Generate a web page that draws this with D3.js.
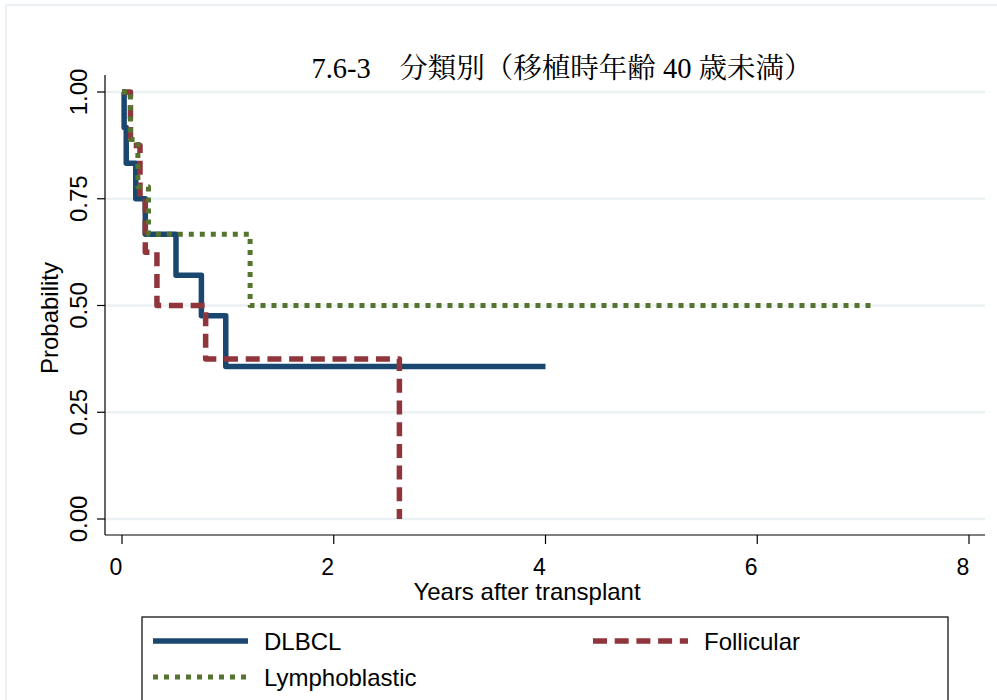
<!DOCTYPE html>
<html>
<head>
<meta charset="utf-8">
<script src="https://cdn.jsdelivr.net/npm/d3@7"></script>
<style>
  body { margin: 0; background: #fff; }
  text { font-family: "Liberation Sans", Arial, sans-serif; fill: #000; }
  .title { font-family: "Liberation Serif", "Noto Serif CJK JP", "Noto Sans CJK JP", serif; }
</style>
</head>
<body>
<script>
// Kaplan-Meier steps
var dlbclTime = [0, 0.02, 0.04, 0.13, 0.22, 0.51, 0.75, 0.98, 4.0];
var dlbclSurv = [1, 0.917, 0.833, 0.75, 0.667, 0.571, 0.476, 0.357, 0.357];

var follTime = [0, 0.08, 0.17, 0.22, 0.33, 0.79, 2.62];
var follSurv = [1, 0.875, 0.75, 0.625, 0.5, 0.375, 0];

var lymphTime = [0, 0.08, 0.15, 0.25, 1.21, 7.08];
var lymphSurv = [1, 0.889, 0.778, 0.667, 0.5, 0.5];

var xTicks = [0, 2, 4, 6, 8];
var yTicks = [0, 0.25, 0.5, 0.75, 1];
var titleText = "7.6-3\u3000分類別（移植時年齢 40 歳未満）";

var W = 997, H = 700;
var svg = d3.select("body").append("svg").attr("width", W).attr("height", H);

// outer faint frame
svg.append("rect")
  .attr("x", 6).attr("y", 5).attr("width", W + 20).attr("height", H + 20)
  .attr("fill", "none").attr("stroke", "#e6edf2").attr("stroke-width", 1.5);

var x = d3.scaleLinear().domain([0, 8]).range([122, 969]);
var y = d3.scaleLinear().domain([0, 1]).range([519, 92]);
var plotL = 105, plotR = 985, plotT = 75, plotB = 535;

// gridlines
svg.selectAll(".grid").data(yTicks).enter().append("line")
  .attr("x1", plotL).attr("x2", plotR)
  .attr("y1", function (d) { return y(d); })
  .attr("y2", function (d) { return y(d); })
  .attr("stroke", "#eaf2f3").attr("stroke-width", 2.5);

// axes lines
svg.append("line").attr("x1", plotL).attr("x2", plotL).attr("y1", plotT).attr("y2", plotB)
  .attr("stroke", "#000").attr("stroke-width", 1.2);
svg.append("line").attr("x1", plotL).attr("x2", plotR).attr("y1", plotB).attr("y2", plotB)
  .attr("stroke", "#000").attr("stroke-width", 1.2);

// y ticks + labels
svg.selectAll(".ytick").data(yTicks).enter().append("line")
  .attr("x1", plotL - 8).attr("x2", plotL)
  .attr("y1", function (d) { return y(d); })
  .attr("y2", function (d) { return y(d); })
  .attr("stroke", "#000").attr("stroke-width", 1.2);
svg.selectAll(".ylab").data(yTicks).enter().append("text")
  .attr("transform", function (d) { return "translate(87," + y(d) + ") rotate(-90)"; })
  .attr("text-anchor", "middle").style("font-size", "24px")
  .text(function (d) { return d3.format(".2f")(d); });

// x ticks + labels
svg.selectAll(".xtick").data(xTicks).enter().append("line")
  .attr("x1", function (d) { return x(d); })
  .attr("x2", function (d) { return x(d); })
  .attr("y1", plotB).attr("y2", plotB + 9)
  .attr("stroke", "#000").attr("stroke-width", 1.2);
svg.selectAll(".xlab").data(xTicks).enter().append("text")
  .attr("x", function (d) { return x(d) - 6; })
  .attr("y", 575)
  .attr("text-anchor", "middle").style("font-size", "23px")
  .text(function (d) { return d; });

// axis titles
svg.append("text").attr("x", 527).attr("y", 600).attr("text-anchor", "middle")
  .style("font-size", "24px").text("Years after transplant");
svg.append("text").attr("transform", "translate(58,318) rotate(-90)")
  .attr("text-anchor", "middle").style("font-size", "24px").text("Probability");

// title
svg.append("text").attr("class", "title").attr("x", 562).attr("y", 78)
  .attr("text-anchor", "middle").style("font-size", "28.5px").text(titleText);

// curves
var series = [
  { name: "DLBCL", t: dlbclTime, s: dlbclSurv, color: "#1a476f", dash: null, width: 5.5 },
  { name: "Follicular", t: follTime, s: follSurv, color: "#90353b", dash: "14,7.7", width: 5.5 },
  { name: "Lymphoblastic", t: lymphTime, s: lymphSurv, color: "#55752f", dash: "5,6", width: 5 }
];

var line = d3.line()
  .x(function (d) { return x(d[0]); })
  .y(function (d) { return y(d[1]); })
  .curve(d3.curveStepAfter);

series.forEach(function (sr) {
  var pts = sr.t.map(function (t, i) { return [t, sr.s[i]]; });
  svg.append("path")
    .attr("d", line(pts))
    .attr("fill", "none")
    .attr("stroke", sr.color)
    .attr("stroke-width", sr.width)
    .attr("stroke-linejoin", "round")
    .attr("stroke-dasharray", sr.dash);
});

// legend
var lg = svg.append("g");
lg.append("rect").attr("x", 142).attr("y", 617).attr("width", 806).attr("height", 100)
  .attr("fill", "#fff").attr("stroke", "#000").attr("stroke-width", 1.2);
var legendPos = [[153, 641], [593, 641], [153, 677]];
series.forEach(function (sr, i) {
  var p = legendPos[i];
  lg.append("line").attr("x1", p[0]).attr("x2", p[0] + 95).attr("y1", p[1]).attr("y2", p[1])
    .attr("stroke", sr.color).attr("stroke-width", sr.width)
    .attr("stroke-dasharray", sr.dash);
  lg.append("text").attr("x", p[0] + 111).attr("y", p[1] + 8.5)
    .style("font-size", "24px").text(sr.name);
});
</script>
</body>
</html>
